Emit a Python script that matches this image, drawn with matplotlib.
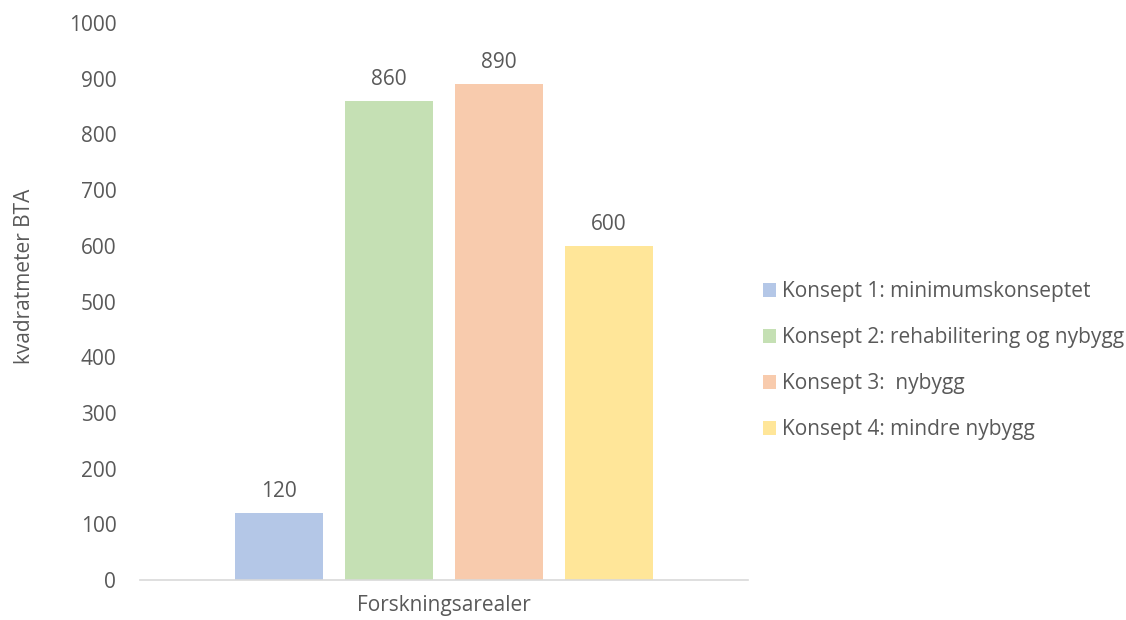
import matplotlib.pyplot as plt

plt.rcParams['font.family'] = ['Open Sans', 'DejaVu Sans']

# data
konsepter = ["Konsept 1: minimumskonseptet",
             "Konsept 2: rehabilitering og nybygg",
             "Konsept 3:  nybygg",
             "Konsept 4: mindre nybygg"]
arealer = [120, 860, 890, 600]
farger = ["#B4C7E7", "#C5E0B4", "#F8CBAD", "#FFE699"]
kategori = "Forskningsarealer"

tekst = "#595959"
fs = 15

fig = plt.figure(figsize=(11.26, 6.2), dpi=100)
ax = fig.add_axes([0.1243, 0.0645, 0.540, 0.8984])

for i, (navn, verdi, farge) in enumerate(zip(konsepter, arealer, farger)):
    ax.bar(i, verdi, width=0.8, color=farge, label=navn)
    ax.annotate(str(verdi), (i, verdi), xytext=(0, 8), textcoords="offset points",
                ha="center", va="bottom", fontsize=fs, color=tekst)

ax.set_xlim(-1.264, 4.264)
ax.set_ylim(0, 1000)
ax.set_yticks(range(0, 1001, 100))
ax.set_xticks([1.5])
ax.set_xticklabels([kategori])

for s in ["top", "right", "left"]:
    ax.spines[s].set_visible(False)
ax.spines["bottom"].set_color("#D9D9D9")
ax.spines["bottom"].set_linewidth(1.2)
ax.tick_params(axis="both", length=0, labelsize=fs, labelcolor=tekst)
ax.tick_params(axis="y", pad=17)
ax.tick_params(axis="x", pad=11)

ax.set_ylabel("kvadratmeter BTA", fontsize=fs, color=tekst)
ax.yaxis.set_label_coords(-0.172, 0.546)

fig.legend(loc="center left", bbox_to_anchor=(0.661, 0.418), frameon=False,
           fontsize=fs, labelcolor=tekst, handlelength=0.6, handleheight=0.6,
           handletextpad=0.3, labelspacing=1.2)

fig.savefig("out.png", dpi=100)
